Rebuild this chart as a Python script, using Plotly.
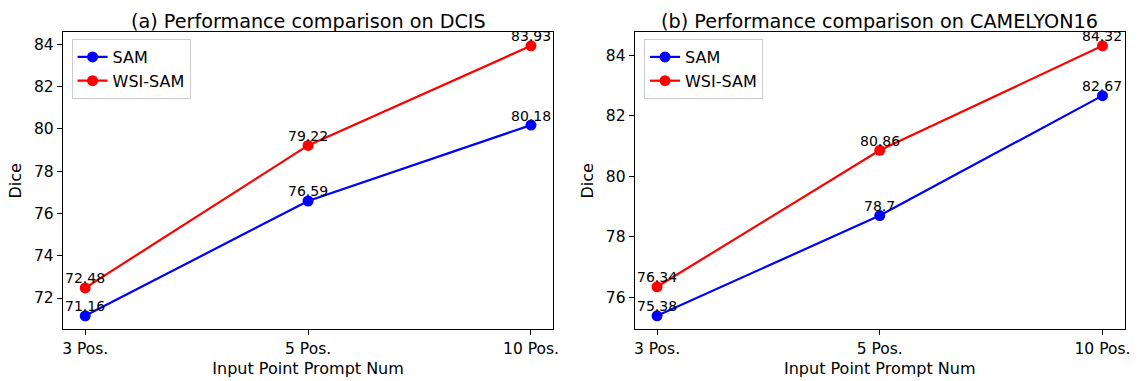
import plotly.graph_objects as go

categories = ["3 Pos.", "5 Pos.", "10 Pos."]
dcis_sam = [71.16, 76.59, 80.18]
dcis_wsisam = [72.48, 79.22, 83.93]
cam_sam = [75.38, 78.7, 82.67]
cam_wsisam = [76.34, 80.86, 84.32]
titles = ["(a) Performance comparison on DCIS", "(b) Performance comparison on CAMELYON16"]
series_names = ["SAM", "WSI-SAM"]
colors = ["#0000ff", "#ff0000"]

W, H = 1138, 381
FONT = "DejaVu Sans"
FS = 16      # axis titles, legend
TKS = 15.5   # tick labels
ANS = 14     # value labels
TFS = 19.2   # subplot titles

fig = go.Figure()
x_idx = list(range(len(categories)))

panels = [(dcis_sam, dcis_wsisam), (cam_sam, cam_wsisam)]
xdoms = [(62.3 / W, 555.7 / W), (637.7 / W, 1130.7 / W)]
ydom = ((H - 329.3) / H, (H - 32.3) / H)

for p, (s1, s2) in enumerate(panels):
    xa = "x" if p == 0 else "x2"
    ya = "y" if p == 0 else "y2"
    leg = "legend" if p == 0 else "legend2"
    for name, vals, col in zip(series_names, (s1, s2), colors):
        fig.add_trace(go.Scatter(
            x=x_idx, y=vals, mode="lines+markers", name=name,
            line=dict(color=col, width=2.2), marker=dict(color=col, size=11),
            xaxis=xa, yaxis=ya, legend=leg, showlegend=True, hoverinfo="skip"))
        for xi, v in zip(x_idx, vals):
            fig.add_annotation(x=xi, y=v, xref=xa, yref=ya, text=repr(v),
                               showarrow=False, yanchor="bottom", xanchor="center",
                               yshift=-0.5, font=dict(family=FONT, size=ANS, color="black"))
    allv = list(s1) + list(s2)
    lo, hi = min(allv), max(allv)
    m = (hi - lo) * 0.05
    axis_common = dict(showline=True, mirror=True, linecolor="black", linewidth=1.2,
                       ticks="outside", ticklen=5, tickwidth=1.2, tickcolor="black",
                       showgrid=False, zeroline=False,
                       tickfont=dict(family=FONT, size=TKS, color="black"))
    xkey = "xaxis" if p == 0 else "xaxis2"
    ykey = "yaxis" if p == 0 else "yaxis2"
    fig.update_layout(**{
        xkey: dict(domain=list(xdoms[p]), anchor=ya, range=[-0.1, 2.1],
                   tickmode="array", tickvals=x_idx, ticktext=categories,
                   title=dict(text="Input Point Prompt Num", standoff=5,
                              font=dict(family=FONT, size=FS, color="black")),
                   **axis_common),
        ykey: dict(domain=list(ydom), anchor=xa, range=[lo - m, hi + m], dtick=2,
                   title=dict(text="Dice", standoff=8,
                              font=dict(family=FONT, size=FS, color="black")),
                   **axis_common),
    })
    fig.add_annotation(text=titles[p], xref=xa + " domain", yref="paper",
                       x=0.5, y=(H - 21.5) / H, xanchor="center", yanchor="middle",
                       showarrow=False, font=dict(family=FONT, size=TFS, color="black"))

legend_common = dict(bgcolor="rgba(255,255,255,0.8)", bordercolor="#cccccc", borderwidth=1,
                     font=dict(family=FONT, size=FS, color="black"),
                     xanchor="left", yanchor="top", tracegroupgap=0, itemwidth=30)
fig.update_layout(
    width=W, height=H, margin=dict(l=0, r=0, t=0, b=0),
    paper_bgcolor="white", plot_bgcolor="white", hovermode=False,
    legend=dict(x=71 / W, y=(H - 39) / H, **legend_common),
    legend2=dict(x=647 / W, y=(H - 39) / H, **legend_common),
)

fig.write_html(
    "out.html",
    config={"displayModeBar": False, "staticPlot": False},
    post_script="document.body.style.margin='0';document.body.style.overflow='hidden';",
)
